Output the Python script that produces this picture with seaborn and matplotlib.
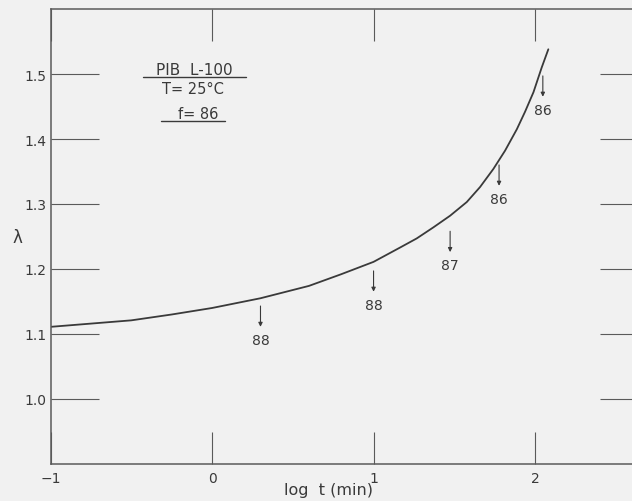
import matplotlib
matplotlib.use("Agg")
import matplotlib.pyplot as plt
import seaborn as sns
import pandas as pd

# ---- data ----
log_t = [-1.0, -0.5, -0.25, 0.0, 0.3, 0.6, 0.8, 1.0, 1.164, 1.267, 1.37, 1.474,
         1.577, 1.659, 1.742, 1.814, 1.887, 1.938, 1.99, 2.041, 2.082]
lam = [1.111, 1.121, 1.130, 1.140, 1.155, 1.174, 1.192, 1.211, 1.233, 1.247, 1.264, 1.282,
       1.303, 1.326, 1.354, 1.382, 1.415, 1.442, 1.472, 1.510, 1.538]

arrow_x = [0.3, 1.0, 1.474, 1.777, 2.048]
arrow_tip = [1.111, 1.165, 1.226, 1.328, 1.465]
arrow_labels = ["88", "88", "87", "86", "86"]

x_ticks = [-1, 0, 1, 2]
x_ticklabels = ["\u22121", "0", "1", "2"]
y_ticks = [1.0, 1.1, 1.2, 1.3, 1.4, 1.5]
y_ticklabels = ["1.0", "1.1", "1.2", "1.3", "1.4", "1.5"]

legend_lines = ["PIB  L-100", "T= 25\u00b0C", "f= 86"]

# ---- style ----
sns.set_theme(style="ticks")
plt.rcParams["font.family"] = ["DejaVu Sans"]
bg = "#f1f1f1"
ink = "#3a3a3a"
grey = "#5a5a5a"

fig = plt.figure(figsize=(6.32, 5.02), dpi=100, facecolor=bg)
ax = fig.add_axes([50.5 / 632, 37 / 502, 581.5 / 632, 455 / 502])
ax.set_facecolor(bg)

df = pd.DataFrame({"log_t": log_t, "lam": lam})
sns.lineplot(data=df, x="log_t", y="lam", ax=ax, color=ink, lw=1.3, sort=False, estimator=None)

ax.set_xlim(-1, 2.6)
ax.set_ylim(0.9, 1.6)

for s in ["left", "bottom", "top"]:
    ax.spines[s].set_color(grey)
    ax.spines[s].set_linewidth(1.1)
ax.spines["right"].set_visible(False)

ax.set_xticks(x_ticks)
ax.set_xticklabels(x_ticklabels)
ax.set_yticks(y_ticks)
ax.set_yticklabels(y_ticklabels)
ax.tick_params(axis="x", which="both", direction="in", length=23, width=0.8,
               color=grey, top=True, bottom=True, labelsize=10, labelcolor=ink, pad=5)
ax.tick_params(axis="y", which="both", direction="in", width=0.8, color=grey,
               left=True, right=True, labelsize=10, labelcolor=ink, pad=3)
for t in ax.yaxis.get_major_ticks():
    t.tick1line.set_markersize(34.5)
    t.tick2line.set_markersize(23)

ax.set_xlabel("log  t (min)", fontsize=11.5, color=ink)
ax.xaxis.label.set_va("center")
ax.xaxis.set_label_coords((328 - 50.5) / 581.5, (465 - 491) / 455)
ax.set_ylabel("\u03bb", fontsize=12, color=ink, rotation=0)
ax.yaxis.label.set_va("center")
ax.yaxis.set_label_coords((17 - 50.5) / 581.5, (465 - 238) / 455)

# arrows with labels
for xv, tip, lab in zip(arrow_x, arrow_tip, arrow_labels):
    ax.annotate("", xy=(xv, tip), xytext=(0, 15), textcoords="offset points",
                arrowprops=dict(arrowstyle="-|>", lw=0.8, color=ink, mutation_scale=6,
                                shrinkA=0, shrinkB=0))
    ax.annotate(lab, xy=(xv, tip), xytext=(0, -9.5), textcoords="offset points",
                ha="center", va="center", fontsize=10, color=ink)

# text block
tx = [0.248, 0.245, 0.254]
ty = [0.868, 0.826, 0.771]
tsz = [11, 10.5, 10.5]
for xf, yf, s, fs in zip(tx, ty, legend_lines, tsz):
    ax.text(xf, yf, s, transform=ax.transAxes, ha="center", va="center", fontsize=fs, color=ink)
ax.plot([(143 - 50.5) / 581.5, (246 - 50.5) / 581.5], [(465 - 78) / 455] * 2,
        transform=ax.transAxes, color=ink, lw=1.0)
ax.plot([(161 - 50.5) / 581.5, (225 - 50.5) / 581.5], [(465 - 122) / 455] * 2,
        transform=ax.transAxes, color=ink, lw=1.0)

fig.savefig("out.png", dpi=100, facecolor=bg)
